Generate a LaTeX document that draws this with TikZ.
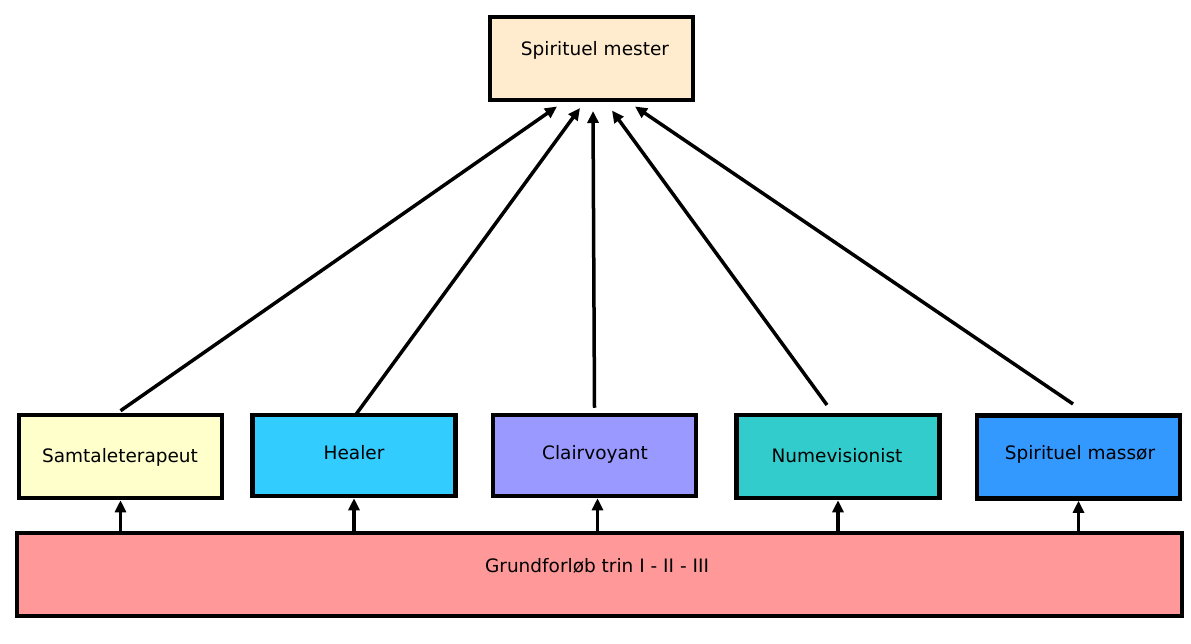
\documentclass[tikz,border=0pt]{standalone}
\usepackage{fontspec}
\setmainfont{DejaVu Sans}
\usetikzlibrary{arrows.meta}
\definecolor{cmester}{HTML}{FFEBCD}
\definecolor{csamt}{HTML}{FFFFCC}
\definecolor{cheal}{HTML}{33CCFF}
\definecolor{cclair}{HTML}{9999FF}
\definecolor{cnume}{HTML}{33CCCC}
\definecolor{cmass}{HTML}{3399FF}
\definecolor{cgrund}{HTML}{FF9999}
\begin{document}
\begin{tikzpicture}[x=1pt,y=-1pt,
  box/.style={draw=black, line width=4.5pt, inner sep=0pt, minimum width=203pt, minimum height=83pt},
  lbl/.style={font=\fontsize{18.5}{21}\selectfont, inner sep=0pt, anchor=base},
  arr/.style={line width=3.5pt, -{Triangle[length=12pt,width=11pt]}}]
\useasboundingbox[fill=white] (0,0) rectangle (1191,644);

\node[box, fill=cmester] (mester) at (591.5,58.5) {};
\node[box, fill=csamt] (samt) at (120.5,456.5) {};
\node[box, fill=cheal, minimum height=81pt] (heal) at (354,455.5) {};
\node[box, fill=cclair, minimum height=81pt] (clair) at (594.5,455.5) {};
\node[box, fill=cnume] (nume) at (838,456.5) {};
\node[box, fill=cmass] (mass) at (1078.5,457) {};
\node[box, fill=cgrund, minimum width=1165pt] (grund) at (599.5,574.5) {};

\node[lbl] (tmester) at (595,56) {Spirituel mester};
\node[lbl] (tsamt) at (120,462) {Samtaleterapeut};
\node[lbl] (theal) at (354,459) {Healer};
\node[lbl] (tclair) at (595,459) {Clairvoyant};
\node[lbl] (tnume) at (837,462) {Numevisionist};
\node[lbl] (tmass) at (1080,459) {Spirituel massør};
\node[lbl] (tgrund) at (597,572) {Grundforløb trin I - II - III};

\coordinate (e1) at (557,106.5);
\coordinate (e2) at (580,108);
\coordinate (e3) at (593,111);
\coordinate (e4) at (612,110.5);
\coordinate (e5) at (635,106.5);
\coordinate (s4) at (827,405);
\coordinate (s5) at (1073,404);

\draw[arr] ([yshift=2pt]samt.north) -- (e1);
\draw[arr] ([xshift=1pt,yshift=-3pt]heal.north) -- (e2);
\draw[arr] ([yshift=5pt]clair.north) -- (e3);
\draw[arr] (s4) -- (e4);
\draw[arr] (s5) -- (e5);

\draw[arr] (grund.north -| samt.south) -- (samt.south);
\draw[arr] (grund.north -| heal.south) -- (heal.south);
\draw[arr] ([xshift=3pt]grund.north -| clair.south) -- ([xshift=3pt]clair.south);
\draw[arr] (grund.north -| nume.south) -- (nume.south);
\draw[arr] (grund.north -| mass.south) -- (mass.south);
\end{tikzpicture}
\end{document}
